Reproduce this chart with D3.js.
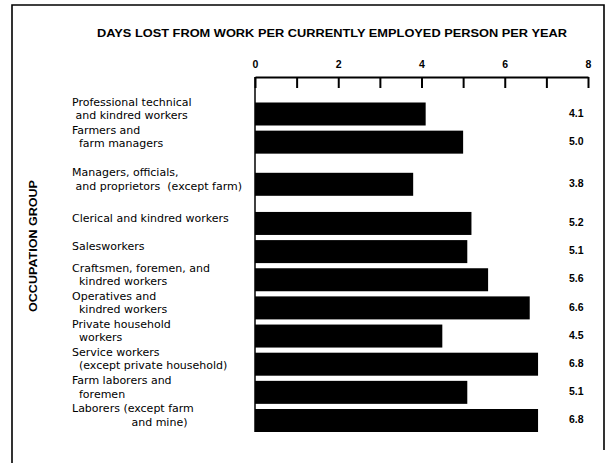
<!DOCTYPE html>
<html>
<head>
<meta charset="utf-8">
<script src="https://cdn.jsdelivr.net/npm/d3@7"></script>
<style>
  body { margin: 0; background: #fff; }
  svg { display: block; }
  text { font-family: "Liberation Sans", Arial, sans-serif; fill: #000; }
  .cat { font-family: "DejaVu Sans", sans-serif; font-size: 11px; white-space: pre; }
</style>
</head>
<body>
<svg id="chart" width="607" height="467"></svg>
<script>
// occupation groups, as printed (leading spaces keep the original indents)
const categories = [
  ["Professional technical", " and kindred workers"],
  ["Farmers and", "  farm managers"],
  ["Managers, officials,", " and proprietors  (except farm)"],
  ["Clerical and kindred workers"],
  ["Salesworkers"],
  ["Craftsmen, foremen, and", "  kindred workers"],
  ["Operatives and", "  kindred workers"],
  ["Private household", "  workers"],
  ["Service workers", "  (except private household)"],
  ["Farm laborers and", "  foremen"],
  ["Laborers (except farm", "                 and mine)"]
];
const daysLost = [4.1, 5.0, 3.8, 5.2, 5.1, 5.6, 6.6, 4.5, 6.8, 5.1, 6.8];
const valueLabels = ["4.1", "5.0", "3.8", "5.2", "5.1", "5.6", "6.6", "4.5", "6.8", "5.1", "6.8"];
const tickValues = [0, 1, 2, 3, 4, 5, 6, 7, 8];
const tickLabels = ["0", "", "2", "", "4", "", "6", "", "8"];

const titleText = "DAYS LOST FROM WORK PER CURRENTLY EMPLOYED PERSON PER YEAR";
const yTitle = "OCCUPATION GROUP";

// layout
const plot = {left: 255, right: 588, axisY: 77};
const rowTop = 114, rowBottom = 420.5, barH = 23;
// extra space printed after the 2nd and 3rd rows
const extraGap = [0, 0, 14, 25, 25, 25, 25, 25, 25, 25, 25];

var svg = d3.select("#chart");

var x = d3.scaleLinear().domain([0, 8]).range([plot.left, plot.right]);

// row centres: even spacing plus the printed section breaks
var step = (rowBottom - rowTop - extraGap[extraGap.length - 1]) / (categories.length - 1);
var yRow = function(i) { return rowTop + i * step + extraGap[i]; };

// frame (left, top, right; no bottom rule in the original)
svg.append("path")
  .attr("d", "M12,463 L12,5 L604,5 L604,450")
  .attr("fill", "none")
  .attr("stroke", "#000")
  .attr("stroke-width", 1.6);

// title
svg.append("text")
  .attr("x", 332)
  .attr("y", 37)
  .attr("text-anchor", "middle")
  .attr("font-size", 11.5)
  .attr("font-weight", "bold")
  .attr("textLength", 470)
  .attr("lengthAdjust", "spacingAndGlyphs")
  .text(titleText);

// y axis title
svg.append("text")
  .attr("transform", "translate(37,246) rotate(-90)")
  .attr("text-anchor", "middle")
  .attr("font-size", 10.5)
  .attr("font-weight", "bold")
  .attr("textLength", 132)
  .attr("lengthAdjust", "spacingAndGlyphs")
  .text(yTitle);

// top axis, ticks pointing down into the plot
var xAxis = d3.axisTop(x)
  .tickValues(tickValues)
  .tickSizeInner(-11)
  .tickSizeOuter(0)
  .tickPadding(9)
  .tickFormat(function(d, i) { return tickLabels[i]; });

var ax = svg.append("g")
  .attr("transform", "translate(0," + plot.axisY + ")")
  .call(xAxis);
ax.select(".domain").attr("stroke-width", 2);
ax.selectAll(".tick line").attr("stroke-width", 2);
ax.selectAll(".tick text")
  .attr("font-family", "Liberation Sans, Arial, sans-serif")
  .attr("font-size", 10.5)
  .attr("font-weight", "bold")
  .attr("fill", "#000");

// zero baseline down the left edge of the bars
svg.append("line")
  .attr("x1", x(0)).attr("x2", x(0))
  .attr("y1", plot.axisY)
  .attr("y2", yRow(categories.length - 1) + barH / 2)
  .attr("stroke", "#000")
  .attr("stroke-width", 1.5);

// bars
svg.append("g").selectAll("rect")
  .data(daysLost)
  .enter().append("rect")
    .attr("x", x(0))
    .attr("y", function(d, i) { return yRow(i) - barH / 2; })
    .attr("width", function(d) { return x(d) - x(0); })
    .attr("height", barH)
    .attr("fill", "#000");

// value labels at the right
svg.append("g").selectAll("text")
  .data(valueLabels)
  .enter().append("text")
    .attr("x", 569)
    .attr("y", function(d, i) { return yRow(i) - 1; })
    .attr("dy", "0.35em")
    .attr("font-size", 10.5)
    .attr("font-weight", "bold")
    .text(function(d) { return d; });

// category labels, stacked lines centred on each bar
var lineH = 13.5;
var cat = svg.append("g").selectAll("text")
  .data(categories)
  .enter().append("text")
    .attr("class", "cat")
    .attr("x", 72)
    .attr("y", function(d, i) { return yRow(i) - 1.5 - (d.length - 1) * lineH / 2; })
    .attr("dy", "0.35em");

cat.selectAll("tspan")
  .data(function(d) { return d; })
  .enter().append("tspan")
    .attr("x", 72)
    .attr("dy", function(d, j) { return j === 0 ? 0 : lineH; })
    .text(function(d) { return d; });
</script>
</body>
</html>
